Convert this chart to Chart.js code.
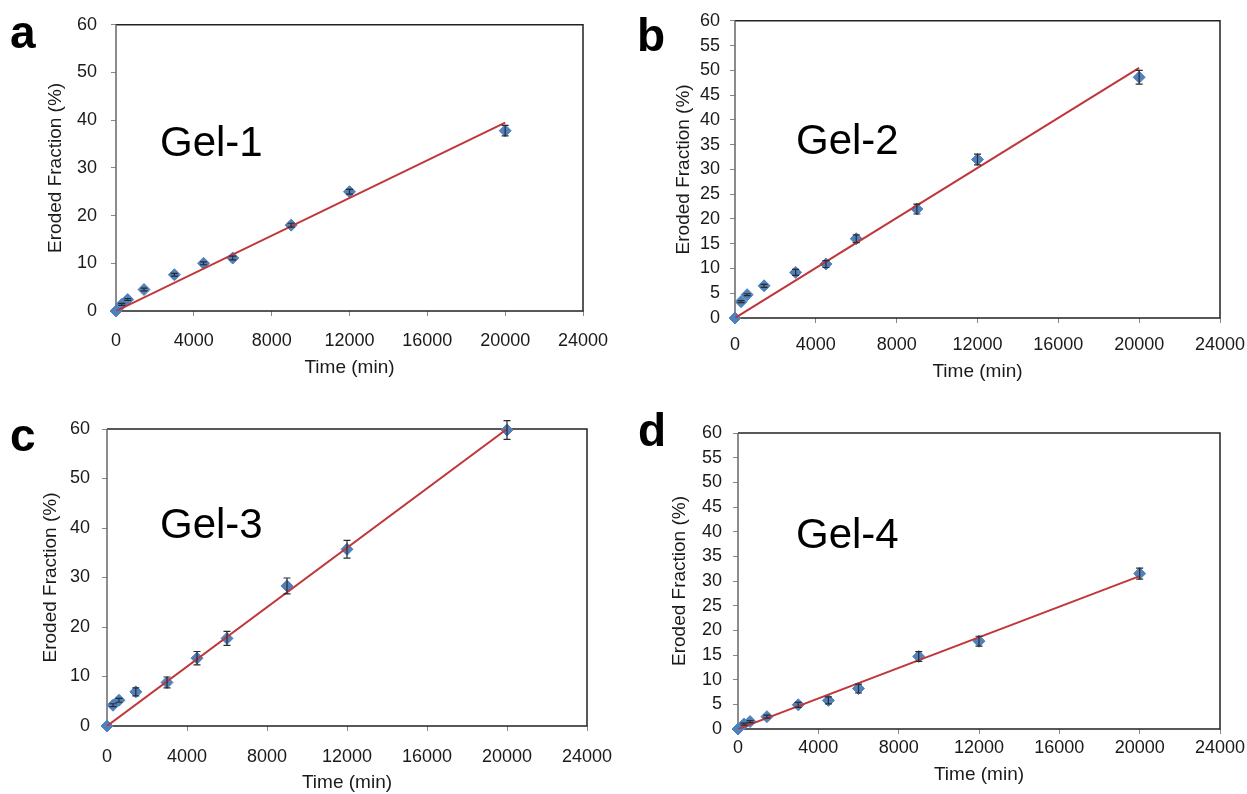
<!DOCTYPE html>
<html>
<head>
<meta charset="utf-8">
<title>Eroded Fraction vs Time</title>
<script src="https://cdn.jsdelivr.net/npm/chart.js@4.4.1/dist/chart.umd.min.js"></script>
<style>
  body { margin: 0; background: #fff; }
  #figure { position: relative; width: 1247px; height: 794px; overflow: hidden; font-family: 'Liberation Sans', Arial, sans-serif; }
  .panel { position: absolute; }
  .letter { position: absolute; font-weight: bold; font-size: 46px; line-height: 1; color: #000; }
</style>
</head>
<body>
<div id="figure">
  <div class="panel" style="left:0;top:0;width:625px;height:395px"><canvas id="gel1"></canvas></div>
  <div class="panel" style="left:623px;top:0;width:639px;height:395px"><canvas id="gel2"></canvas></div>
  <div class="panel" style="left:0;top:397px;width:629px;height:397px"><canvas id="gel3"></canvas></div>
  <div class="panel" style="left:623px;top:397px;width:639px;height:397px"><canvas id="gel4"></canvas></div>
  <div class="letter" style="left:10px;top:9px">a</div>
  <div class="letter" style="left:637px;top:12px">b</div>
  <div class="letter" style="left:10px;top:412px">c</div>
  <div class="letter" style="left:638px;top:407px">d</div>
</div>
<script>
// sampling times, min
const times = [0, 300, 600, 1440, 3000, 4500, 6000, 9000, 12000, 20000];

// eroded fraction (%) and standard deviations
const gel1 = [0, 1.4, 2.4, 4.5, 7.6, 10.0, 11.1, 18.0, 25.0, 37.8];
const gel1Err = [0, 0.2, 0.2, 0.3, 0.3, 0.3, 0.4, 0.4, 0.5, 1.1];
const gel2 = [0, 3.3, 4.7, 6.5, 9.2, 10.9, 16.0, 22.0, 32.0, 48.6];
const gel2Err = [0, 0.2, 0.2, 0.3, 0.6, 0.7, 0.8, 1.0, 1.1, 1.4];
const gel3 = [0, 4.2, 5.2, 6.9, 8.8, 13.7, 17.7, 28.3, 35.7, 59.8];
const gel3Err = [0, 0.3, 0.4, 0.8, 1.1, 1.35, 1.4, 1.6, 1.8, 1.9];
const gel4 = [0, 1.0, 1.5, 2.5, 4.9, 5.8, 8.2, 14.7, 17.8, 31.5];
const gel4Err = [0, 0.2, 0.2, 0.3, 0.5, 0.7, 0.9, 1.0, 1.0, 1.1];

// linear fits through the origin, value at the last time point
const fitEnds = [39.5, 50.5, 60.0, 31.0];

const xTicks = [0, 4000, 8000, 12000, 16000, 20000, 24000];

const FONT = "'Liberation Sans', Arial, sans-serif";

// error bars drawn from the y scale
const errorBars = {
    id: 'errorBars',
    afterDatasetsDraw(chart) {
        const ctx = chart.ctx;
        const yScale = chart.scales.y;
        chart.data.datasets.forEach((ds, i) => {
            if (!ds.errors) return;
            const meta = chart.getDatasetMeta(i);
            ctx.save();
            ctx.strokeStyle = '#2b2b2b';
            ctx.lineWidth = 1.2;
            meta.data.forEach((pt, j) => {
                const e = ds.errors[j];
                if (!e) return;
                const v = ds.data[j].y;
                const top = yScale.getPixelForValue(v + e);
                const bottom = yScale.getPixelForValue(v - e);
                ctx.beginPath();
                ctx.moveTo(pt.x, top);
                ctx.lineTo(pt.x, bottom);
                ctx.moveTo(pt.x - 3.5, top);
                ctx.lineTo(pt.x + 3.5, top);
                ctx.moveTo(pt.x - 3.5, bottom);
                ctx.lineTo(pt.x + 3.5, bottom);
                ctx.stroke();
            });
            ctx.restore();
        });
    }
};

// plot frame and the sample name inside the plot
const frame = {
    id: 'frame',
    beforeDatasetsDraw(chart) {
        const { ctx, chartArea: a } = chart;
        ctx.save();
        ctx.lineWidth = 1.5;
        ctx.strokeStyle = '#222';
        ctx.beginPath();
        ctx.moveTo(a.left, a.top);
        ctx.lineTo(a.right, a.top);
        ctx.lineTo(a.right, a.bottom);
        ctx.lineTo(a.left, a.bottom);
        ctx.stroke();
        ctx.strokeStyle = '#666';
        ctx.beginPath();
        ctx.moveTo(a.left, a.top);
        ctx.lineTo(a.left, a.bottom);
        ctx.stroke();
        ctx.restore();
    },
    afterDraw(chart, args, opts) {
        const { ctx, chartArea: a } = chart;
        ctx.save();
        ctx.font = '42px ' + FONT;
        ctx.fillStyle = '#000';
        ctx.textBaseline = 'alphabetic';
        ctx.fillText(opts.text, a.left + opts.dx, a.top + opts.dy);
        ctx.restore();
    }
};

// per-panel spacing (right padding kept above the last x label's overhang)
const layouts = {
    gel1: { pad: { left: 0, top: 22, right: 42, bottom: 0 }, yW: 116, xH: 84, yTick: 14, yTitle: 44, xTick: 14, xTitle: 15.5, dx: 44, dy: 131 },
    gel2: { pad: { left: 0, top: 15, right: 42, bottom: 0 }, yW: 112, xH: 77, yTick: 10, yTitle: 49.5, xTick: 11.2, xTitle: 12, dx: 61, dy: 133 },
    gel3: { pad: { left: 0, top: 32, right: 42, bottom: 0 }, yW: 107, xH: 68, yTick: 12, yTitle: 39.5, xTick: 15.2, xTitle: 0, dx: 53, dy: 109 },
    gel4: { pad: { left: 0, top: 36, right: 42, bottom: 0 }, yW: 115, xH: 65, yTick: 11, yTitle: 45.5, xTick: 3.5, xTitle: 7.5, dx: 58, dy: 115 }
};

function makePanel(id, name, values, errors, fitEnd, yStep) {
    const L = layouts[id];
    const points = times.map((t, i) => ({ x: t, y: values[i] }));
    const fit = [{ x: 0, y: 0 }, { x: times[times.length - 1], y: fitEnd }];

    new Chart(document.getElementById(id), {
        type: 'scatter',
        data: {
            datasets: [{
                type: 'line',
                label: 'Linear fit',
                data: fit,
                borderColor: '#c0363a',
                borderWidth: 2,
                pointRadius: 0,
                fill: false
            }, {
                label: name,
                data: points,
                errors: errors,
                pointStyle: 'rectRot',
                pointRadius: 6,
                backgroundColor: '#4f81bd',
                borderColor: '#4f81bd',
                borderWidth: 1,
                clip: false
            }]
        },
        options: {
            responsive: true,
            maintainAspectRatio: false,
            animation: false,
            layout: { padding: L.pad },
            plugins: {
                legend: { display: false },
                tooltip: { enabled: false },
                frame: { text: name, dx: L.dx, dy: L.dy }
            },
            scales: {
                x: {
                    type: 'linear',
                    min: 0,
                    max: 24000,
                    afterBuildTicks: scale => { scale.ticks = xTicks.map(v => ({ value: v })); },
                    afterFit: scale => { scale.height = L.xH; },
                    border: { display: false },
                    grid: { drawOnChartArea: false, drawTicks: true, tickLength: 5, color: '#888' },
                    ticks: {
                        padding: L.xTick,
                        color: '#1a1a1a',
                        font: { family: FONT, size: 18 },
                        maxRotation: 0,
                        autoSkip: false,
                        callback: v => String(v)
                    },
                    title: {
                        display: true,
                        text: 'Time (min)',
                        color: '#1a1a1a',
                        font: { family: FONT, size: 19 },
                        padding: { top: 0, bottom: L.xTitle }
                    }
                },
                y: {
                    min: 0,
                    max: 60,
                    afterFit: scale => { scale.width = L.yW; },
                    border: { display: false },
                    grid: { drawOnChartArea: false, drawTicks: true, tickLength: 5, color: '#888' },
                    ticks: {
                        stepSize: yStep,
                        padding: L.yTick,
                        color: '#1a1a1a',
                        font: { family: FONT, size: 18 },
                        callback: v => String(v)
                    },
                    title: {
                        display: true,
                        text: 'Eroded Fraction (%)',
                        color: '#1a1a1a',
                        font: { family: FONT, size: 19 },
                        padding: { top: L.yTitle, bottom: 0 }
                    }
                }
            }
        },
        plugins: [frame, errorBars]
    });
}

document.addEventListener('DOMContentLoaded', function() {
    makePanel('gel1', 'Gel-1', gel1, gel1Err, fitEnds[0], 10);
    makePanel('gel2', 'Gel-2', gel2, gel2Err, fitEnds[1], 5);
    makePanel('gel3', 'Gel-3', gel3, gel3Err, fitEnds[2], 10);
    makePanel('gel4', 'Gel-4', gel4, gel4Err, fitEnds[3], 5);
});
</script>
</body>
</html>
